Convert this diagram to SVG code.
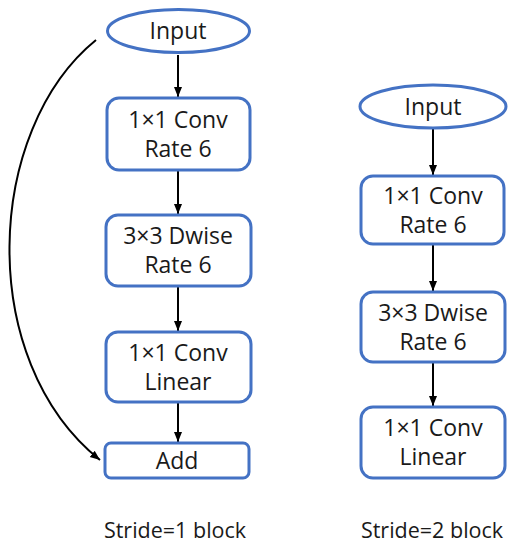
<svg xmlns="http://www.w3.org/2000/svg" width="517" height="550" viewBox="0 0 517 550">
<defs>
<style>
.n{fill:#fff;stroke:#4472C4;stroke-width:3}
.t{font-family:"Open Sans","Liberation Sans",sans-serif;font-size:23px;fill:#1a1a1a;text-anchor:middle}
.cap{font-size:21.5px}
.c{fill:none;stroke:#000;stroke-width:2}
</style>
<marker id="a" viewBox="0 0 10 10" refX="10" refY="5" markerWidth="10" markerHeight="10" orient="auto" markerUnits="userSpaceOnUse">
<path d="M0,1 L10,5 L0,9 z" fill="#000"/>
</marker>
</defs>
<rect width="517" height="550" fill="#fff"/>
<g id="connectors">
<line class="c" x1="178" y1="55" x2="178" y2="97" marker-end="url(#a)"/>
<line class="c" x1="178" y1="171" x2="178" y2="214" marker-end="url(#a)"/>
<line class="c" x1="178" y1="287" x2="178" y2="331" marker-end="url(#a)"/>
<line class="c" x1="178" y1="403" x2="178" y2="442" marker-end="url(#a)"/>
<path class="c" d="M96,40 C-15,130 -25,360 100,460" marker-end="url(#a)"/>
<line class="c" x1="433" y1="129" x2="433" y2="175" marker-end="url(#a)"/>
<line class="c" x1="433" y1="245" x2="433" y2="291" marker-end="url(#a)"/>
<line class="c" x1="433" y1="363" x2="433" y2="406" marker-end="url(#a)"/>
</g>
<g id="l-input"><ellipse class="n" cx="178.5" cy="31" rx="71" ry="21.5"/><text class="t" x="178" y="39">Input</text></g>
<g id="l-conv1"><rect class="n" x="107" y="98" width="143" height="72" rx="12"/><text class="t" x="178" y="128">1×1 Conv</text><text class="t" x="178" y="157">Rate 6</text></g>
<g id="l-dwise"><rect class="n" x="106" y="215" width="145" height="71" rx="12"/><text class="t" x="178" y="244">3×3 Dwise</text><text class="t" x="178" y="273">Rate 6</text></g>
<g id="l-conv2"><rect class="n" x="106" y="332" width="145" height="70" rx="12"/><text class="t" x="178" y="361">1×1 Conv</text><text class="t" x="178" y="390">Linear</text></g>
<g id="l-add"><rect class="n" x="105" y="443" width="144" height="35" rx="6"/><text class="t" x="177" y="469">Add</text></g>
<g id="r-input"><ellipse class="n" cx="433" cy="106.5" rx="73" ry="21.5"/><text class="t" x="433" y="115">Input</text></g>
<g id="r-conv1"><rect class="n" x="361" y="176" width="143" height="68" rx="12"/><text class="t" x="433" y="204">1×1 Conv</text><text class="t" x="433" y="233">Rate 6</text></g>
<g id="r-dwise"><rect class="n" x="361" y="292" width="144" height="70" rx="12"/><text class="t" x="433" y="321">3×3 Dwise</text><text class="t" x="433" y="350">Rate 6</text></g>
<g id="r-conv2"><rect class="n" x="361" y="407" width="144" height="71" rx="12"/><text class="t" x="433" y="436">1×1 Conv</text><text class="t" x="433" y="465">Linear</text></g>
<g id="captions">
<text class="t cap" x="175" y="538">Stride=1 block</text>
<text class="t cap" x="432" y="538">Stride=2 block</text>
</g>
</svg>
